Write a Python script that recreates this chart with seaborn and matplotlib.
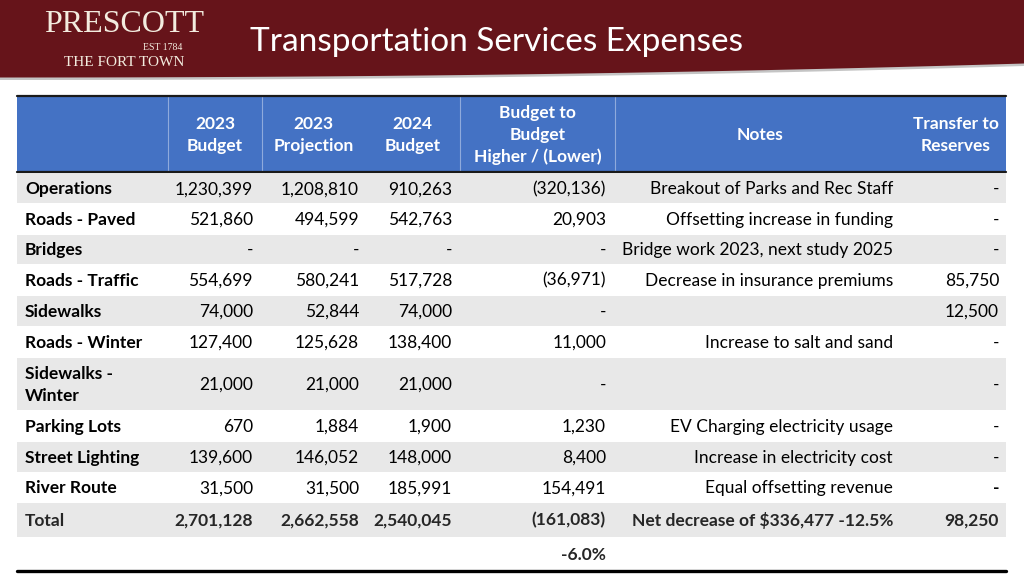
import numpy as np
import matplotlib
matplotlib.use("Agg")
import matplotlib.pyplot as plt
from matplotlib.patches import Rectangle
import seaborn as sns

# ---------------- data ----------------
title = "Transportation Services Expenses"
headers = ["", "2023\nBudget", "2023\nProjection", "2024\nBudget",
           "Budget to\nBudget\nHigher / (Lower)", "Notes", "Transfer to\nReserves"]
categories = ["Operations", "Roads - Paved", "Bridges", "Roads - Traffic", "Sidewalks",
              "Roads - Winter", "Sidewalks -\nWinter", "Parking Lots", "Street Lighting",
              "River Route"]
budget_2023 = [1230399, 521860, None, 554699, 74000, 127400, 21000, 670, 139600, 31500]
projection_2023 = [1208810, 494599, None, 580241, 52844, 125628, 21000, 1884, 146052, 31500]
budget_2024 = [910263, 542763, None, 517728, 74000, 138400, 21000, 1900, 148000, 185991]
budget_diff = [-320136, 20903, None, -36971, None, 11000, None, 1230, 8400, 154491]
notes = ["Breakout of Parks and Rec Staff", "Offsetting increase in funding",
         "Bridge work 2023, next study 2025", "Decrease in insurance premiums", "",
         "Increase to salt and sand", "", "EV Charging electricity usage",
         "Increase in electricity cost", "Equal offsetting revenue"]
transfer = [None, None, None, 85750, 12500, None, None, None, None, None]
total_label = "Total"
totals = [2701128, 2662558, 2540045, -161083]
total_note = "Net decrease of $336,477 -12.5%"
total_transfer = 98250
pct_change = "-6.0%"


def fmt(v):
    if v is None:
        return "-"
    if v < 0:
        return "({:,})".format(-v)
    return "{:,}".format(v)


# ---------------- style ----------------
sns.set_theme(style="white")
plt.rcParams["font.family"] = ["Lato", "DejaVu Sans"]

MAROON = "#66141A"
CREAM = "#F3ECDF"
BLUE = "#4472C4"
GRAY = "#E8E8E8"
FS = 12.5

fig = plt.figure(figsize=(10.24, 5.76), dpi=100)
ax = fig.add_axes([0, 0, 1, 1])
ax.set_xlim(0, 1024)
ax.set_ylim(576, 0)
ax.axis("off")

# header band with wavy bottom
xs = np.linspace(0, 1024, 200)
ybot = 77.5 - 14 * (xs / 1024) ** 2.2
ax.fill_between(xs, ybot + 2.5, 0, color="#C4C4C4", lw=0, zorder=1)
ax.fill_between(xs, ybot, 0, color=MAROON, lw=0, zorder=2)
ax.text(250, 42, title, color="white", fontsize=24, va="center", ha="left", zorder=3)

# logo
ax.text(124, 24, "PRESCOTT", family="Liberation Serif", color=CREAM, fontsize=23,
        ha="center", va="center", zorder=3)
ax.text(163, 48, "EST 1784", family="Liberation Serif", color=CREAM, fontsize=7,
        ha="center", va="center", zorder=3)
ax.text(124, 63, "THE FORT TOWN", family="Liberation Serif", color=CREAM, fontsize=11,
        ha="center", va="center", zorder=3)

# table layout
col_edges = [17, 168, 262, 365, 460, 615, 905, 1006]
num_right = [253, 359, 452, 606]
note_right = 893
transfer_right = 999
label_left = 25
head_top, head_bot = 96, 172
row_edges = [173, 203, 234, 264, 295, 326, 357, 410, 441, 472, 502, 537, 569]

# header
ax.add_patch(Rectangle((col_edges[0], head_top), col_edges[-1] - col_edges[0],
                       head_bot - head_top, color=BLUE, lw=0, zorder=2))
for xe in [168, 262, 460, 615]:
    ax.plot([xe, xe], [head_top + 1, head_bot - 1], color="#8FAADC", lw=0.8, zorder=3)
ax.plot([col_edges[0], col_edges[-1]], [head_top - 0.5, head_top - 0.5], color="#1A1A1A", lw=1.6, zorder=4)
ax.plot([col_edges[0], col_edges[-1]], [head_bot, head_bot], color="#1A1A1A", lw=1.6, zorder=4)
for i, h in enumerate(headers):
    if not h:
        continue
    cx = (col_edges[i] + col_edges[i + 1]) / 2
    ax.text(cx, (head_top + head_bot) / 2 + 1, h, color="white", fontsize=FS, weight="bold",
            ha="center", va="center", linespacing=1.45, zorder=5)

# body rows
n = len(categories)
for r in range(n + 2):
    y0, y1 = row_edges[r], row_edges[r + 1]
    if r % 2 == 0:
        ax.add_patch(Rectangle((col_edges[0], y0 + 0.5), col_edges[-1] - col_edges[0],
                               y1 - y0 - 1, color=GRAY, lw=0, zorder=2))

for r in range(n):
    yc = (row_edges[r] + row_edges[r + 1]) / 2 + 1.2
    ax.text(label_left, yc, categories[r], fontsize=FS, weight="bold", ha="left",
            va="center", linespacing=1.45, color="black", zorder=5)
    vals = [budget_2023[r], projection_2023[r], budget_2024[r], budget_diff[r]]
    for xr, v in zip(num_right, vals):
        ax.text(xr, yc, fmt(v), fontsize=FS, ha="right", va="center", color="black", zorder=5)
    if notes[r]:
        ax.text(note_right, yc, notes[r], fontsize=FS, ha="right", va="center", color="black", zorder=5)
    ax.text(transfer_right, yc, fmt(transfer[r]), fontsize=FS, ha="right", va="center",
            color="black", zorder=5, weight="bold" if categories[r] == "River Route" else "normal")

# total row
yc = (row_edges[n] + row_edges[n + 1]) / 2 + 1
ax.text(label_left, yc, total_label, fontsize=FS, weight="bold", ha="left", va="center", zorder=5)
for xr, v in zip(num_right, totals):
    ax.text(xr, yc, fmt(v), fontsize=FS, weight="bold", ha="right", va="center", zorder=5)
ax.text(note_right, yc, total_note, fontsize=FS, weight="bold", ha="right", va="center", zorder=5)
ax.text(transfer_right, yc, fmt(total_transfer), fontsize=FS, weight="bold", ha="right",
        va="center", zorder=5)

# pct row
yc = (row_edges[n + 1] + row_edges[n + 2]) / 2 + 1.5
ax.text(num_right[3], yc, pct_change, fontsize=FS, weight="bold", ha="right", va="center", zorder=5)
ax.plot([col_edges[0], col_edges[-1]], [571, 571], color="black", lw=2.4, zorder=4)

fig.savefig("out.png", dpi=100)
